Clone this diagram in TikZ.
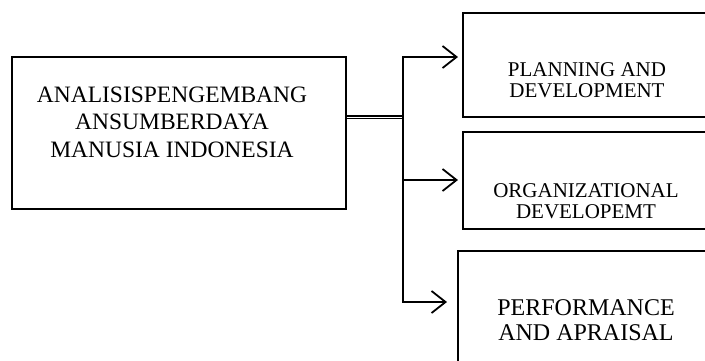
\documentclass[tikz,border=0pt]{standalone}
\usepackage{fontspec}
\setmainfont{Liberation Serif}
\usetikzlibrary{arrows.meta}
\begin{document}
\begin{tikzpicture}[x=1pt,y=-1pt,
  box/.style={draw=black,line width=1.8pt,anchor=north west,inner sep=0pt},
  lbl/.style={align=center,inner sep=0pt,text=black},
  conn/.style={line width=1.8pt,draw=black},
  arr/.style={conn,-{Straight Barb[length=14pt,width=22pt,line width=1.8pt]}}]
\useasboundingbox (0,0) rectangle (705,360);
\clip (0,0) rectangle (705,360);
\fill[white] (0,0) rectangle (705,360);
% boxes
\node[box,minimum width=334pt,minimum height=152pt] (src) at (11,56) {};
\node[box,minimum width=260pt,minimum height=104pt] (b1) at (462,12) {};
\node[box,minimum width=260pt,minimum height=97pt] (b2) at (462,131) {};
\node[box,minimum width=270pt,minimum height=130pt] (b3) at (457,250) {};
% texts
\node[lbl,font=\fontsize{23.5}{27.5}\selectfont] (tsrc) at (172,122) {ANALISISPENGEMBANG\\ANSUMBERDAYA\\MANUSIA INDONESIA};
\node[lbl,font=\fontsize{21}{21.5}\selectfont] (t1) at (587,80) {PLANNING AND\\DEVELOPMENT};
\node[lbl,font=\fontsize{21}{21.5}\selectfont] (t2) at (586,201) {ORGANIZATIONAL\\DEVELOPEMT};
\node[lbl,font=\fontsize{24}{25}\selectfont] (t3) at (586,320) {PERFORMANCE\\AND APRAISAL};
% connectors
\coordinate (j) at (403,117);
\coordinate (jt) at (403,57);
\coordinate (jm) at (403,180);
\coordinate (jb) at (403,302);
\draw[draw=black,line width=1.4pt,double=white,double distance=0.9pt] (src.east |- j) -- (j);
\draw[conn,line cap=rect] (jt) -- (jb);
\draw[arr] (jt) -- ([xshift=-4pt]b1.west |- jt);
\draw[arr] (jm) -- ([xshift=-4pt]b2.west |- jm);
\draw[arr] (jb) -- ([xshift=-10pt]b3.west |- jb);
\end{tikzpicture}
\end{document}
